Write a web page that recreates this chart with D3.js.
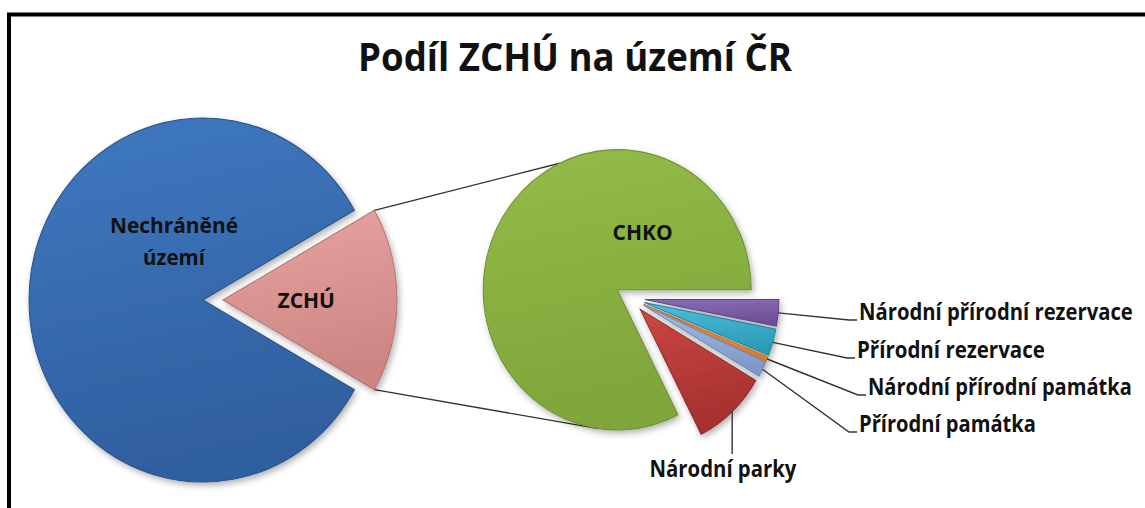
<!DOCTYPE html>
<html>
<head>
<meta charset="utf-8">
<script src="https://cdn.jsdelivr.net/npm/d3@7"></script>
<style>
body{margin:0;background:#fff;}
svg text{font-family:"Open Sans","Noto Sans",sans-serif;font-weight:bold;fill:#111;}
</style>
</head>
<body>
<svg id="chart" width="1145" height="508"></svg>
<script>
// hlavni kolac - podil v % uzemi CR
const mainNames = ["Nechráněné území", "ZCHÚ"];
const mainValues = [83.6, 16.4];
const mainColors = [["#4078c0", "#2f5f9f"], ["#e8a4a2", "#cc8583"]];

// rozpad ZCHU - podil v % z plochy ZCHU
const subNames = ["Národní přírodní rezervace", "Přírodní rezervace", "Národní přírodní památka", "Přírodní památka", "Národní parky", "CHKO"];
const subValues = [3.05, 3.1, 0.5, 1.8, 9.05, 82.5];
const subColors = [["#8c6cb5", "#6c4f96"], ["#4ec0dc", "#2c9ab6"], ["#f9a35c", "#e07f2c"], ["#a4bfe6", "#8099c8"], ["#c94744", "#a5302d"], ["#93bc48", "#7fa53a"]];

const title = "Podíl ZCHÚ na území ČR";

let svg = d3.select("#chart");
let sy = 1.046; // obrazek je mirne roztazeny svisle

// --- defs: gradienty a stin
let defs = svg.append("defs");
let allColors = mainColors.concat(subColors);
allColors.forEach((c, i) => {
	let g = defs.append("linearGradient")
		.attr("id", "grad" + i)
		.attr("x1", 0).attr("y1", 0).attr("x2", 0.2).attr("y2", 1);
	g.append("stop").attr("offset", "0%").attr("stop-color", c[0]);
	g.append("stop").attr("offset", "100%").attr("stop-color", c[1]);
});
let f = defs.append("filter").attr("id", "shadow")
	.attr("x", "-20%").attr("y", "-20%").attr("width", "140%").attr("height", "140%");
f.append("feDropShadow").attr("dx", 2).attr("dy", 3).attr("stdDeviation", 3)
	.attr("flood-color", "#000").attr("flood-opacity", 0.3);

// ramecek
svg.append("rect")
	.attr("x", 9).attr("y", 14.5)
	.attr("width", 1200).attr("height", 600)
	.attr("fill", "none").attr("stroke", "#000").attr("stroke-width", 4);

// text zuzeny na danou sirku (Calibri je uzsi nez dostupna pisma)
function squeezedText(str, x, y, size, width, anchor){
	let g = svg.append("g");
	let t = g.append("text")
		.attr("font-size", size)
		.text(str);
	let natural = t.node().getComputedTextLength();
	let k = Math.min(1, width / natural);
	let x0 = anchor == "middle" ? -width / 2 : 0;
	t.attr("x", x0 / k);
	g.attr("transform", "translate(" + x + "," + y + ") scale(" + k + ",1)");
	return g;
}

// titulek
squeezedText(title, 575, 71, 39, 434, "middle");

// --- geometrie
const main = {cx: 213, cy: 300, r: 174, explode: 10};
const sub = {cx: 630, cy: 298, r: 134, explode: 15};

let mainTotal = d3.sum(mainValues);
let mainPie = d3.pie().sort(null)
	.startAngle(Math.PI / 2 + mainValues[1] / mainTotal * Math.PI)
	.endAngle(Math.PI / 2 + mainValues[1] / mainTotal * Math.PI + 2 * Math.PI);
let subPie = d3.pie().sort(null)
	.startAngle(Math.PI / 2)
	.endAngle(Math.PI / 2 + 2 * Math.PI);

let mainArcs = mainPie(mainValues);
let subArcs = subPie(subValues);

function offset(d, e){
	let m = (d.startAngle + d.endAngle) / 2;
	return [e * Math.sin(m), -e * Math.cos(m)];
}
// bod na obvodu vysece v souradnicich obrazku
function rimPoint(pie, d, angle, r){
	let o = offset(d, pie.explode);
	return [pie.cx + o[0] + r * Math.sin(angle), pie.cy + sy * (o[1] - r * Math.cos(angle))];
}

function drawPie(pie, arcs, colorOffset){
	let arc = d3.arc().innerRadius(0).outerRadius(pie.r);
	let g = svg.append("g")
		.attr("transform", "translate(" + pie.cx + "," + pie.cy + ") scale(1," + sy + ")")
		.attr("filter", "url(#shadow)");
	g.selectAll("path")
		.data(arcs)
		.join("path")
		.attr("transform", d => "translate(" + offset(d, pie.explode) + ")")
		.attr("d", arc)
		.attr("fill", (d, i) => "url(#grad" + (i + colorOffset) + ")")
		.attr("stroke", (d, i) => d3.color(allColors[i + colorOffset][1]).darker(0.4))
		.attr("stroke-width", 1);
}

// spojovaci cary mezi kolaci
let zchu = mainArcs[1];
let chko = subArcs[5];
const connectAngles = [334.5, 188.6]; // stupne na obvodu CHKO
let connectors = [
	[rimPoint(main, zchu, zchu.startAngle, main.r), rimPoint(sub, chko, connectAngles[0] * Math.PI / 180, sub.r)],
	[rimPoint(main, zchu, zchu.endAngle, main.r), rimPoint(sub, chko, connectAngles[1] * Math.PI / 180, sub.r)]
];
svg.selectAll("line.conn")
	.data(connectors)
	.join("line")
	.attr("class", "conn")
	.attr("x1", d => d[0][0]).attr("y1", d => d[0][1])
	.attr("x2", d => d[1][0]).attr("y2", d => d[1][1])
	.attr("stroke", "#333").attr("stroke-width", 1.4);

drawPie(main, mainArcs, 0);
drawPie(sub, subArcs, 2);

// popisky uvnitr kolacu
const innerLabels = [
	{text: "Nechráněné", x: 174, y: 233, w: 128},
	{text: "území", x: 174, y: 265, w: 62},
	{text: "ZCHÚ", x: 307, y: 308, w: 59},
	{text: "CHKO", x: 643, y: 240, w: 61}
];
innerLabels.forEach(l => squeezedText(l.text, l.x, l.y, 21, l.w, "middle"));

// popisky malych vyseci s odkazovymi carami
const outerLabels = [
	{x: 859, y: 320, w: 274},
	{x: 857, y: 358, w: 188},
	{x: 868, y: 395, w: 264},
	{x: 859, y: 432, w: 177},
	{x: 723, y: 477, w: 147, below: true}
];
outerLabels.forEach((l, i) => {
	let d = subArcs[i];
	let p0 = rimPoint(sub, d, (d.startAngle + d.endAngle) / 2, sub.r);
	let pts;
	if (l.below)
		pts = [p0, [p0[0], l.y - 23]];
	else
		pts = [p0, [l.x - 10, l.y], [l.x - 2, l.y]];
	svg.append("path")
		.attr("d", d3.line()(pts))
		.attr("fill", "none")
		.attr("stroke", "#333").attr("stroke-width", 1.4);
	squeezedText(subNames[i], l.x, l.y, 23, l.w, l.below ? "middle" : "start");
});
</script>
</body>
</html>
